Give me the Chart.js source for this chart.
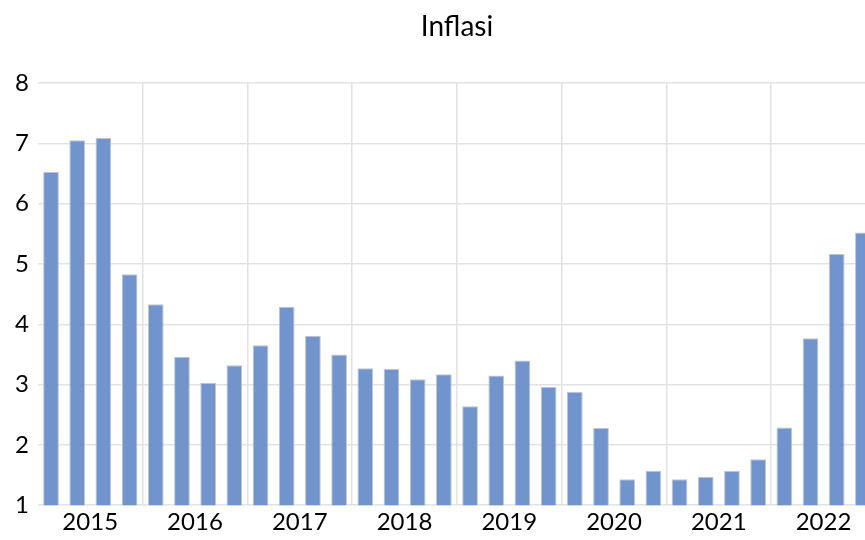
<!DOCTYPE html>
<html>
<head>
<meta charset="utf-8">
<script src="https://cdn.jsdelivr.net/npm/chart.js@4"></script>
<style>
  html, body { margin: 0; padding: 0; background: #fff; overflow: hidden; }
  #wrap { position: relative; width: 914px; height: 540px; }
  #title {
    position: absolute; left: 0; top: 8px; width: 914px;
    text-align: center; font: 28px Lato, "Open Sans", sans-serif; color: #000;
  }
</style>
</head>
<body>
<div id="wrap">
  <div id="title">Inflasi</div>
  <canvas id="inflasiChart"></canvas>
</div>
<script>
// DATA
const years    = ['2015', '2016', '2017', '2018', '2019', '2020', '2021', '2022'];
const quarters = ['Q1', 'Q2', 'Q3', 'Q4'];
const inflasi  = [
    6.53, 7.05, 7.09, 4.83,
    4.33, 3.46, 3.03, 3.32,
    3.65, 4.29, 3.81, 3.50,
    3.27, 3.26, 3.09, 3.17,
    2.64, 3.15, 3.40, 2.96,
    2.88, 2.28, 1.43, 1.57,
    1.43, 1.47, 1.57, 1.76,
    2.29, 3.77, 5.17, 5.52
];
const yTicks = [1, 2, 3, 4, 5, 6, 7, 8];

const labels = [];
years.forEach(y => quarters.forEach(q => labels.push(y + ' ' + q)));

const font = 'Lato, "Open Sans", sans-serif';
const gridColor = '#e2e2e2';

new Chart(document.getElementById('inflasiChart'), {
    type: 'bar',
    data: {
        labels: labels,
        datasets: [{
            label: 'Inflasi',
            data: inflasi,
            backgroundColor: '#7294cc',
            borderColor: '#c4c4c4',
            borderWidth: 1,
            borderSkipped: false,
            categoryPercentage: 1,
            barPercentage: 0.6
        }]
    },
    options: {
        responsive: true,
        maintainAspectRatio: false,
        animation: false,
        layout: { padding: { left: 6, right: 38, top: 83, bottom: 0 } },
        plugins: {
            legend: { display: false },
            tooltip: { enabled: false },
            title: { display: false }
        },
        scales: {
            y: {
                min: yTicks[0],
                max: yTicks[yTicks.length - 1],
                border: { display: false },
                grid: { color: gridColor, drawTicks: false, lineWidth: 1.5 },
                ticks: {
                    stepSize: 1,
                    padding: 9,
                    color: '#000',
                    font: { family: font, size: 24 }
                }
            },
            x: {
                offset: true,
                border: { display: false },
                grid: {
                    offset: true,
                    drawTicks: false,
                    lineWidth: 1.5,
                    // only the lines between years
                    color: ctx => (ctx.index > 0 && ctx.index < labels.length && ctx.index % 4 === 0) ? gridColor : 'rgba(0,0,0,0)'
                },
                ticks: {
                    autoSkip: false,
                    maxRotation: 0,
                    padding: 3,
                    labelOffset: 13,
                    color: '#000',
                    font: { family: font, size: 24 },
                    callback: (val, i) => (i % 4 === 1 ? years[Math.floor(i / 4)] : '')
                }
            }
        }
    }
});
</script>
</body>
</html>
